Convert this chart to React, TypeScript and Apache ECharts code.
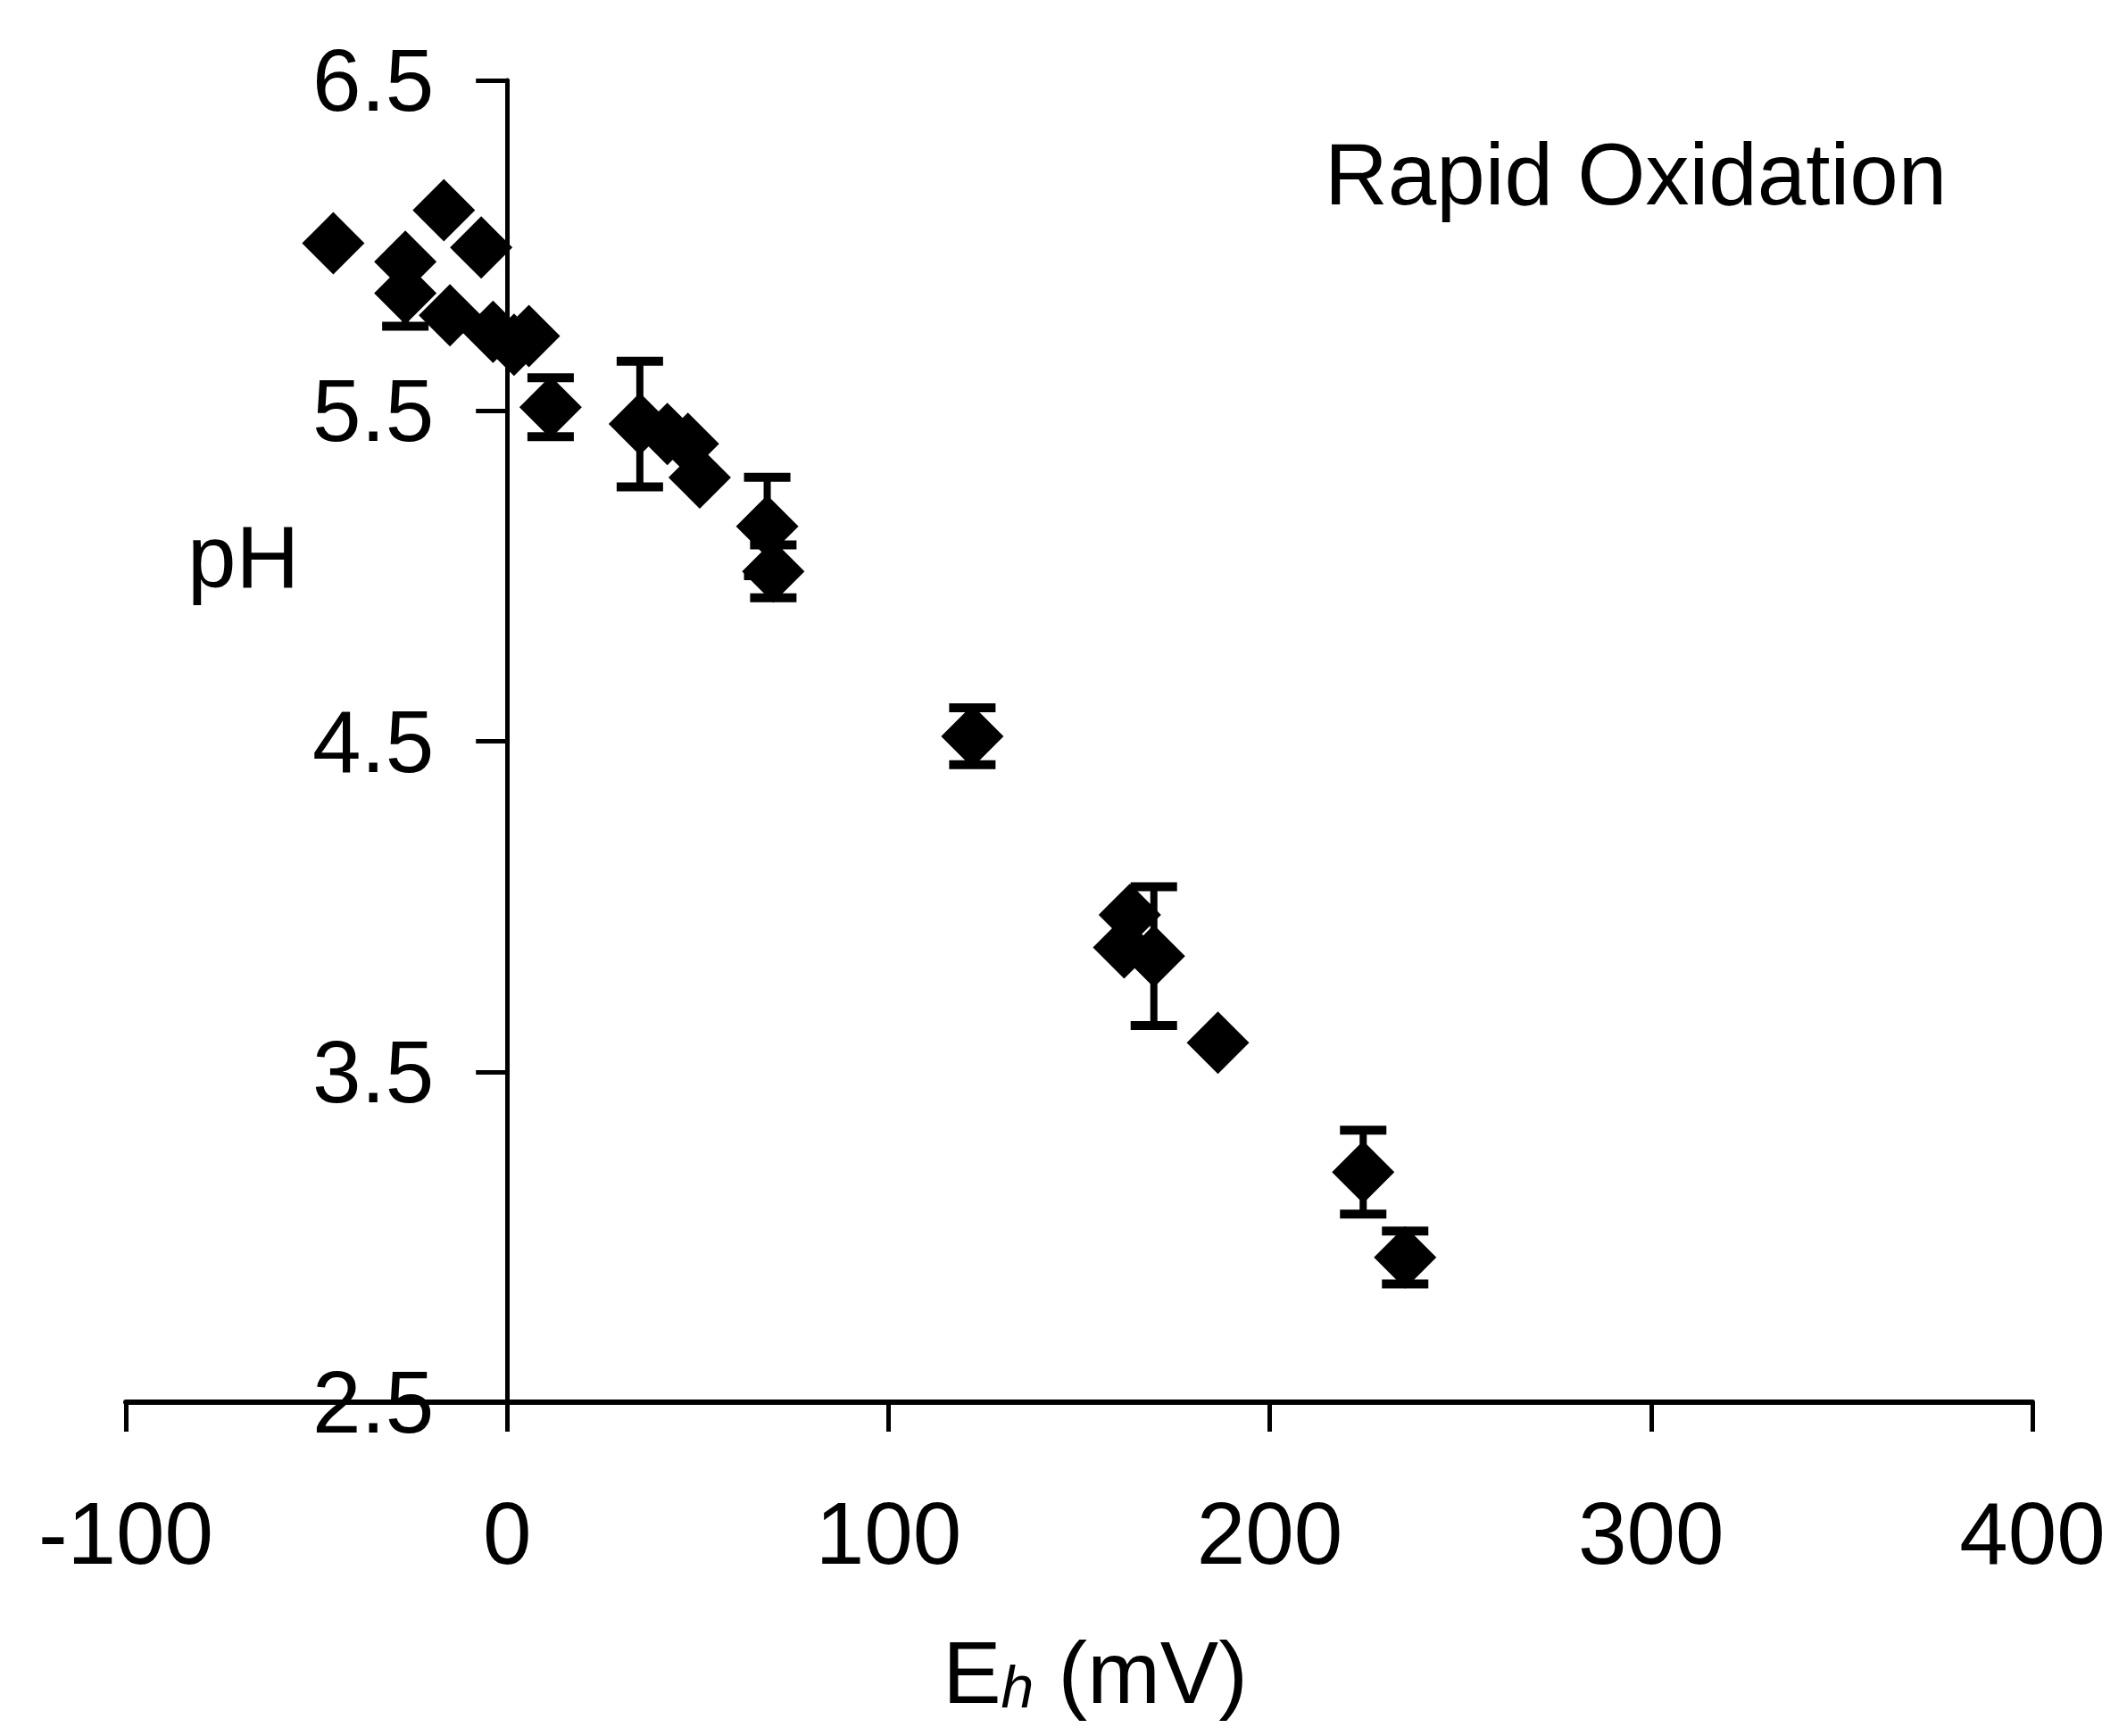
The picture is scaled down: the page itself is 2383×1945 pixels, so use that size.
import React, { useEffect, useRef } from "react";
import * as echarts from "echarts";

// Eh (mV) values of each point
const ehValues = [
  -45.6, -16.6, -6.8, -26.7, -26.7, -15.0, -3.7, 5.7, 1.8, 11.4, 34.8, 42.0, 47.4, 50.5,
  68.2, 69.8, 122.0, 163.3, 161.8, 169.6, 186.4, 224.5, 235.5,
];
// pH values of each point
const phValues = [
  6.007, 6.107, 5.994, 5.951, 5.856, 5.789, 5.739, 5.726, 5.7, 5.511, 5.46, 5.43, 5.4, 5.298,
  5.15, 5.014, 4.515, 3.975, 3.876, 3.85, 3.588, 3.196, 2.938,
];
// error bar half-heights (0 = no bar)
const phErrors = [
  0, 0, 0, 0, 0.1, 0, 0, 0, 0, 0.089, 0.19, 0, 0, 0,
  0.149, 0.08, 0.086, 0, 0, 0.21, 0, 0.127, 0.08,
];

const xTicks = { min: -100, max: 400, interval: 100 };
const yTicks = { min: 2.5, max: 6.5, interval: 1 };

const FONT = "'Liberation Sans', Arial, Helvetica, sans-serif";
const GRID_LEFT = 141;
const GRID_RIGHT = 106;
const CHART_W = 2383;

export default function App() {
  const ref = useRef<HTMLDivElement>(null);

  useEffect(() => {
    if (!ref.current) return;
    const chart = echarts.init(ref.current, undefined, { renderer: "svg" });

    const scatterData = ehValues.map((x, i) => [x, phValues[i]]);
    const errData = ehValues
      .map((x, i) => [x, phValues[i], phErrors[i]])
      .filter((d) => d[2] > 0);

    // shift the y axis so that it sits at Eh = 0
    const plotW = CHART_W - GRID_LEFT - GRID_RIGHT;
    const yAxisOffset = -((0 - xTicks.min) / (xTicks.max - xTicks.min)) * plotW;

    const option: any = {
      animation: false,
      backgroundColor: "#ffffff",
      grid: {
        left: GRID_LEFT,
        right: GRID_RIGHT,
        top: 90,
        bottom: 374,
        containLabel: false,
        outerBoundsMode: "none",
      },
      xAxis: {
        type: "value",
        min: xTicks.min,
        max: xTicks.max,
        interval: xTicks.interval,
        splitLine: { show: false },
        axisLine: { show: true, onZero: false, lineStyle: { color: "#000", width: 6 } },
        axisTick: { show: true, inside: false, length: 33, lineStyle: { color: "#000", width: 5 } },
        axisLabel: {
          margin: 98,
          color: "#000",
          fontSize: 98,
          fontFamily: FONT,
          formatter: (v: number) => String(v),
        },
        name: "{a|E}{b|h}{a| (mV)}",
        nameLocation: "middle",
        nameGap: 254,
        nameTextStyle: {
          padding: [0, 0, 0, 36],
          rich: {
            a: { fontSize: 98, fontFamily: FONT, color: "#000", lineHeight: 98 },
            b: {
              fontSize: 66,
              fontFamily: FONT,
              fontStyle: "italic",
              color: "#000",
              lineHeight: 30,
              verticalAlign: "bottom",
            },
          },
        },
      },
      yAxis: {
        type: "value",
        min: yTicks.min,
        max: yTicks.max,
        interval: yTicks.interval,
        offset: yAxisOffset,
        splitLine: { show: false },
        axisLine: { show: true, onZero: false, lineStyle: { color: "#000", width: 5 } },
        axisTick: { show: true, inside: false, length: 35, lineStyle: { color: "#000", width: 5 } },
        axisLabel: {
          margin: 82,
          color: "#000",
          fontSize: 98,
          fontFamily: FONT,
          formatter: (v: number) => v.toFixed(1),
        },
      },
      graphic: [
        {
          type: "text",
          left: 210,
          top: 575,
          style: { text: "pH", fontSize: 98, fontFamily: FONT, fill: "#000" },
        },
        {
          type: "text",
          left: 1484,
          top: 146,
          style: { text: "Rapid Oxidation", fontSize: 98, fontFamily: FONT, fill: "#000" },
        },
      ],
      series: [
        {
          type: "custom",
          data: errData,
          encode: { x: 0, y: 1 },
          z: 2,
          renderItem: (params: any, api: any) => {
            const x = api.value(0);
            const y = api.value(1);
            const e = api.value(2);
            const top = api.coord([x, y + e]);
            const bot = api.coord([x, y - e]);
            const hw = 26;
            const st = { stroke: "#000", lineWidth: 8 };
            const cap = { stroke: "#000", lineWidth: 10 };
            return {
              type: "group",
              children: [
                { type: "line", shape: { x1: top[0], y1: top[1], x2: bot[0], y2: bot[1] }, style: st },
                { type: "line", shape: { x1: top[0] - hw, y1: top[1], x2: top[0] + hw, y2: top[1] }, style: cap },
                { type: "line", shape: { x1: bot[0] - hw, y1: bot[1], x2: bot[0] + hw, y2: bot[1] }, style: cap },
              ],
            };
          },
        },
        {
          type: "scatter",
          data: scatterData,
          symbol: "diamond",
          symbolSize: 70,
          itemStyle: { color: "#000", opacity: 1 },
          z: 3,
        },
      ],
    };

    chart.setOption(option);
    return () => chart.dispose();
  }, []);

  return (
    <div
      ref={ref}
      style={{ position: "absolute", left: 0, top: 0, width: 2383, height: 1945, background: "#fff" }}
    />
  );
}
